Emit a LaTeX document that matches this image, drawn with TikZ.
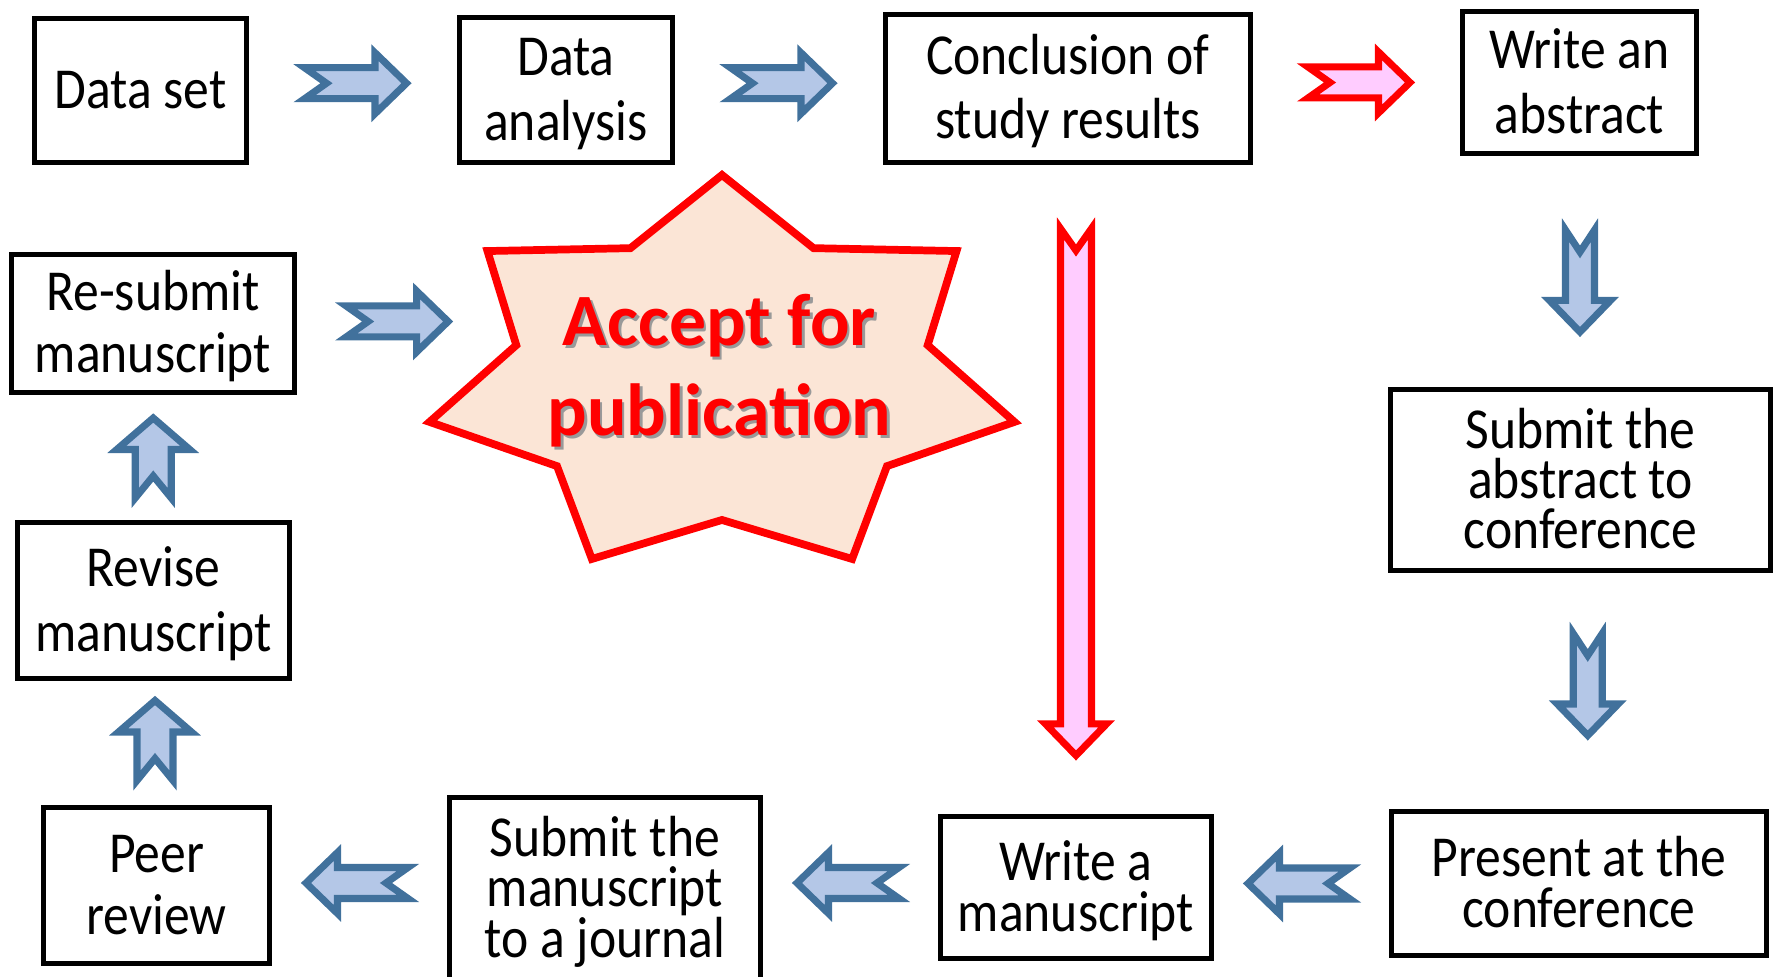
\documentclass[tikz,border=0pt]{standalone}
\usepackage{fontspec}
\setmainfont{Carlito}[FakeStretch=0.89]
\newfontfamily\starfont{Carlito}
\usetikzlibrary{calc}

\definecolor{arrowedge}{HTML}{41719C}
\definecolor{arrowfill}{HTML}{B4C7E7}
\definecolor{pinkfill}{HTML}{FFCCFF}
\definecolor{starfill}{HTML}{FBE5D6}

\tikzset{
  stepbox/.style={draw, line width=1.5pt, inner sep=0pt, align=center,
    text height=10.4pt, text depth=0pt, font=\fontsize{16.5pt}{18pt}\selectfont},
  % leading, and height from cap top of first line to last baseline
  lines/.style 2 args={font=\fontsize{16.5pt}{#1}\selectfont, text height=#2},
  bluearrow/.style={draw=arrowedge, fill=arrowfill, line width=2pt},
  redarrow/.style={draw=red, fill=pinkfill, line width=2pt},
  startext/.style={text=red, align=center,
    font=\starfont\bfseries\fontsize{21pt}{25.6pt}\selectfont},
  % notched block arrow: outer length, half shaft width, half head width
  pics/notched/.style n args={3}{code={
    \path[pic actions] (-#1/2+0.10,#2) -- (#1/2-0.365,#2) -- (#1/2-0.365,#3) -- (#1/2-0.05,0)
      -- (#1/2-0.365,-#3) -- (#1/2-0.365,-#2) -- (-#1/2+0.10,-#2) -- (-#1/2+0.32,0) -- cycle;
  }}
}

\begin{document}
\begin{tikzpicture}
    \useasboundingbox (0,0) rectangle (17.77,-9.77);

    % top row
    \node[stepbox, minimum width=2.12cm, minimum height=1.44cm] (dataset) at (1.405,-0.905) {Data set};
    \node[stepbox, lines={18.4pt}{28.8pt}, minimum width=2.13cm, minimum height=1.45cm] (analysis) at (5.66,-0.90) {Data\\analysis};
    \node[stepbox, lines={18.2pt}{28.6pt}, minimum width=3.65cm, minimum height=1.48cm] (conclusion) at (10.68,-0.885) {Conclusion of\\study results};
    \node[stepbox, lines={18.4pt}{28.8pt}, minimum width=2.34cm, minimum height=1.42cm] (abstract) at (15.795,-0.825) {Write an\\abstract};

    % right column
    \node[stepbox, lines={14.3pt}{39pt}, minimum width=3.80cm, minimum height=1.81cm] (subabs) at (15.805,-4.80) {Submit the\\abstract to\\conference};
    \node[stepbox, lines={14.5pt}{24.9pt}, minimum width=3.75cm, minimum height=1.44cm] (present) at (15.79,-8.835) {Present at the\\conference};

    % bottom row
    \node[stepbox, lines={14.5pt}{24.9pt}, minimum width=2.71cm, minimum height=1.42cm] (writems) at (10.76,-8.875) {Write a\\manuscript};
    \node[stepbox, lines={14.3pt}{39pt}, minimum width=3.11cm, minimum height=1.82cm] (subms) at (6.05,-8.885) {Submit the\\manuscript\\to a journal};
    \node[stepbox, lines={17.7pt}{28.1pt}, minimum width=2.26cm, minimum height=1.56cm] (peer) at (1.565,-8.855) {Peer\\review};

    % left column
    \node[stepbox, lines={18.4pt}{28.8pt}, minimum width=2.72cm, minimum height=1.56cm] (revise) at (1.535,-6.005) {Revise\\manuscript};
    \node[stepbox, lines={17.7pt}{28.1pt}, minimum width=2.83cm, minimum height=1.38cm] (resubmit) at (1.53,-3.235) {Re-submit\\manuscript};

    % star
    \coordinate (star) at (7.22,-3.77);
    \draw[red, line width=2.2pt, fill=starfill, shift={(star)}] (90:3.0 and 2.02)
      \foreach \k in {0,...,6}{ -- ({90-(\k+0.5)*360/7}:2.11 and 1.43) -- ({90-(\k+1)*360/7}:3.0 and 2.02) } -- cycle;
    \node[startext, text=black!40] at ($(7.195,-3.71)+(0.025,-0.025)$) {Accept for\\publication};
    \node[startext] (accept) at (7.195,-3.71) {Accept for\\publication};

    % arrows
    \pic[bluearrow] at ($(dataset.east)!0.5!(analysis.west)+(0,0.07)$) {notched={1.17}{0.155}{0.305}};
    \pic[bluearrow] at ($(analysis.east)!0.5!(conclusion.west)+(0,0.06)$) {notched={1.17}{0.155}{0.305}};
    \pic[redarrow] at ($(conclusion.east)!0.5!(abstract.west)+(0,0.03)$) {notched={1.17}{0.155}{0.305}};
    \pic[bluearrow, rotate=-90] at ($(abstract.south)!0.5!(subabs.north)+(0,-0.07)$) {notched={1.17}{0.145}{0.305}};
    \pic[bluearrow, rotate=-90] at ($(subabs.south)!0.5!(present.north)+(0.08,0.09)$) {notched={1.17}{0.145}{0.305}};
    \pic[bluearrow, rotate=180] at ($(present.west)!0.5!(writems.east)+(0,0.02)$) {notched={1.17}{0.155}{0.305}};
    \pic[bluearrow, rotate=180] at ($(writems.west)!0.5!(subms.east)+(0,0.05)$) {notched={1.17}{0.155}{0.305}};
    \pic[bluearrow, rotate=180] at ($(subms.west)!0.5!(peer.east)+(0,0.04)$) {notched={1.17}{0.155}{0.305}};
    \pic[bluearrow, rotate=90] at ($(peer.north)!0.5!(revise.south)$) {notched={0.95}{0.18}{0.365}};
    \pic[bluearrow, rotate=90] at ($(revise.north)!0.5!(resubmit.south)+(0,-0.03)$) {notched={0.95}{0.18}{0.365}};
    \pic[bluearrow] at ($(resubmit.east)+(0.975,0.02)$) {notched={1.17}{0.155}{0.305}};
    \pic[redarrow, rotate=-90] at ($(writems.north)!0.5!(writems.north |- conclusion.south)$) {notched={5.42}{0.155}{0.305}};
\end{tikzpicture}
\end{document}
